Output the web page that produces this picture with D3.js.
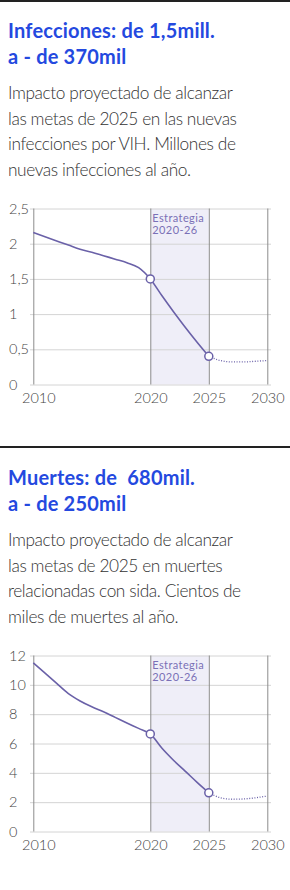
<!DOCTYPE html>
<html>
<head>
<meta charset="utf-8">
<script src="https://cdn.jsdelivr.net/npm/d3@7"></script>
<style>
  body { margin: 0; background: #fff; }
  svg { display: block; }
  .titulo { font-family: Lato, sans-serif; font-weight: 700; fill: #2449df; font-size: 20px; white-space: pre; }
  .cuerpo { font-family: Lato, sans-serif; font-weight: 300; fill: #333; font-size: 17.3px; }
  .eje text { font-family: Lato, sans-serif; font-size: 14.5px; fill: #444; font-weight: 300; }
  .etiqueta { font-family: Lato, sans-serif; font-size: 11px; fill: #7a70b6; }
</style>
</head>
<body>
<div id="grafico"></div>
<script>
// datos
var anios = [2010, 2011, 2012, 2013, 2014, 2015, 2016, 2017, 2018, 2019, 2020, 2021, 2022, 2023, 2024, 2025];
var aniosProy = [2025, 2026, 2027, 2028, 2029, 2030];
var hitos = [2020, 2025];
var ticksX = [2010, 2020, 2025, 2030];

var infecciones = [2.16, 2.10, 2.04, 1.98, 1.92, 1.88, 1.83, 1.78, 1.73, 1.66, 1.50, 1.26, 1.03, 0.81, 0.60, 0.40];
var infeccionesProy = [0.40, 0.34, 0.32, 0.32, 0.33, 0.34];
var ticksInf = [0, 0.5, 1, 1.5, 2, 2.5];

var muertes = [11.5, 10.8, 10.1, 9.4, 8.9, 8.5, 8.16, 7.78, 7.4, 7.03, 6.65, 5.67, 4.84, 4.1, 3.35, 2.64];
var muertesProy = [2.64, 2.3, 2.2, 2.22, 2.3, 2.42];
var ticksMue = [0, 2, 4, 6, 8, 10, 12];

var titulos1 = ["Infecciones: de 1,5mill.", "a - de 370mil"];
var texto1 = ["Impacto proyectado de alcanzar", "las metas de 2025 en las nuevas",
              "infecciones por VIH. Millones de", "nuevas infecciones al año."];
var titulos2 = ["Muertes: de  680mil.", "a - de 250mil"];
var texto2 = ["Impacto proyectado de alcanzar", "las metas de 2025 en muertes",
              "relacionadas con sida. Cientos de", "miles de muertes al año."];
var estrategia = ["Estrategia", "2020-26"];

var W = 290, H = 890;
var es = d3.formatLocale({decimal: ",", thousands: ".", grouping: [3], currency: ["", "€"]});
var fmt = es.format("~g");

var svg = d3.select("#grafico").append("svg")
    .attr("width", W)
    .attr("height", H);

// lineas separadoras
svg.append("line").attr("x1", 0).attr("x2", W).attr("y1", 1).attr("y2", 1)
    .attr("stroke", "#222").attr("stroke-width", 2);
svg.append("line").attr("x1", 0).attr("x2", W).attr("y1", 447).attr("y2", 447)
    .attr("stroke", "#222").attr("stroke-width", 2);

function panel(offset, titulos, texto, valores, proy, ticksY) {
  var g = svg.append("g").attr("transform", "translate(0," + offset + ")");

  g.selectAll(".titulo").data(titulos).enter().append("text")
      .attr("class", "titulo")
      .attr("x", 8)
      .attr("y", function(d, i) { return 38 + i * 25.6; })
      .attr("letter-spacing", 0.2)
      .text(function(d) { return d; });

  g.selectAll(".cuerpo").data(texto).enter().append("text")
      .attr("class", "cuerpo")
      .attr("x", 8)
      .attr("y", function(d, i) { return 99 + i * 25.7; })
      .attr("letter-spacing", -0.4)
      .text(function(d) { return d; });

  var top = 208.5, bottom = 384.5;
  var x = d3.scaleLinear().domain([2010, 2030]).range([33.3, 267.3]);
  var y = d3.scaleLinear().domain([0, d3.max(ticksY)]).range([bottom, top]);

  // banda estrategia
  g.append("rect")
      .attr("x", x(2020))
      .attr("y", top)
      .attr("width", x(2025) - x(2020))
      .attr("height", bottom - top)
      .attr("fill", "#efeef8");

  var yAxis = d3.axisLeft(y)
      .tickValues(ticksY)
      .tickSize(-(271 - 30))
      .tickFormat(fmt);
  var gy = g.append("g")
      .attr("class", "eje")
      .attr("transform", "translate(30,0)")
      .call(yAxis);
  gy.select(".domain").remove();
  gy.selectAll("line").attr("stroke", "#d4d4d4");
  gy.selectAll("text").attr("x", -21).attr("text-anchor", "start");

  var xAxis = d3.axisBottom(x)
      .tickValues(ticksX)
      .tickSize(-(bottom - top))
      .tickFormat(d3.format("d"));
  var gx = g.append("g")
      .attr("class", "eje")
      .attr("transform", "translate(0," + bottom + ")")
      .call(xAxis);
  gx.select(".domain").remove();
  gx.selectAll("line").attr("stroke", "#8c8c8c");
  gx.selectAll("text").attr("y", 8).attr("dx", function(d) { return d === 2010 ? 5 : 0; });

  g.selectAll(".etiqueta").data(estrategia).enter().append("text")
      .attr("class", "etiqueta")
      .attr("x", x(2020) + 2)
      .attr("y", function(d, i) { return 221.5 + i * 12.6; })
      .attr("letter-spacing", 0.4)
      .text(function(d) { return d; });

  var linea = d3.line()
      .x(function(d) { return x(d.x); })
      .y(function(d) { return y(d.y); })
      .curve(d3.curveMonotoneX);

  var hist = anios.map(function(a, i) { return {x: a, y: valores[i]}; });
  var fut = aniosProy.map(function(a, i) { return {x: a, y: proy[i]}; });

  g.append("path")
      .attr("d", linea(fut))
      .attr("fill", "none")
      .attr("stroke", "#6a61a8")
      .attr("stroke-width", 1.3)
      .attr("stroke-dasharray", "1,1.6");

  g.append("path")
      .attr("d", linea(hist))
      .attr("fill", "none")
      .attr("stroke", "#6a61a8")
      .attr("stroke-width", 1.6);

  g.selectAll(".punto").data(hitos).enter().append("circle")
      .attr("class", "punto")
      .attr("cx", function(d) { return x(d); })
      .attr("cy", function(d) { return y(valores[anios.indexOf(d)]); })
      .attr("r", 4)
      .attr("fill", "#fff")
      .attr("stroke", "#6a61a8")
      .attr("stroke-width", 1.5);
}

panel(0, titulos1, texto1, infecciones, infeccionesProy, ticksInf);
panel(447, titulos2, texto2, muertes, muertesProy, ticksMue);
</script>
</body>
</html>
